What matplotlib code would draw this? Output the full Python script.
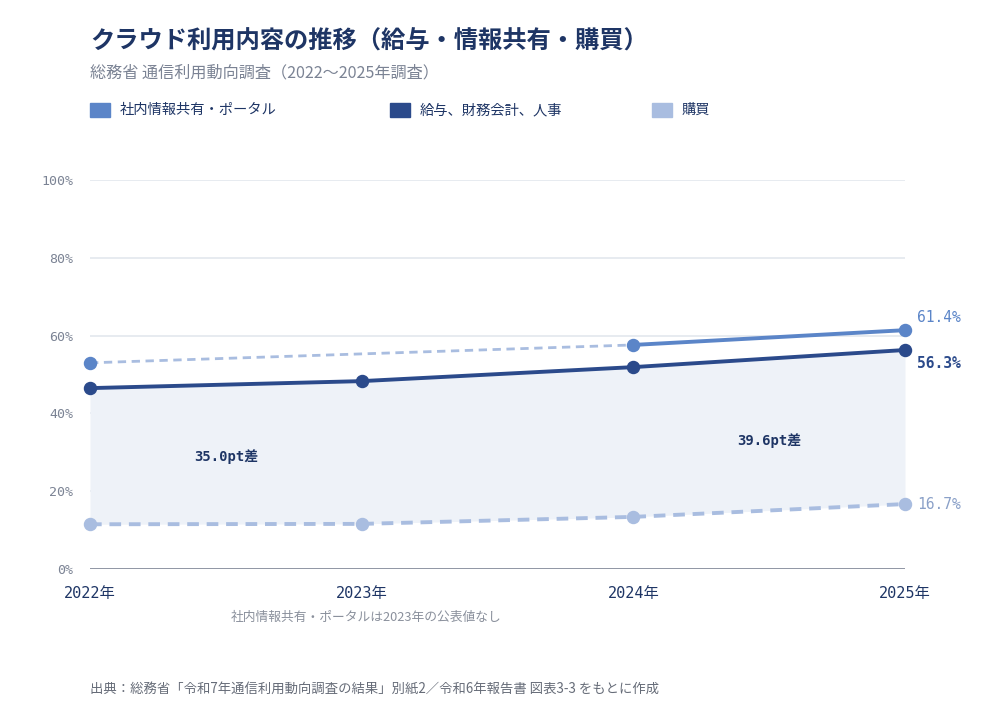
import matplotlib
matplotlib.use('Agg')
import matplotlib.pyplot as plt
import numpy as np

# 日本語フォント (数字は等幅、足りない文字は CJK へ)
plt.rcParams['font.family'] = ['DejaVu Sans Mono', 'Noto Sans CJK JP']
plt.rcParams['axes.unicode_minus'] = False

# データ
years = ['2022年', '2023年', '2024年', '2025年']
portal_x = [0, 2, 3]          # 2023年は公表値なし
portal = [53.0, 57.6, 61.4]
payroll = [46.5, 48.3, 51.9, 56.3]
purchase = [11.5, 11.6, 13.4, 16.7]
yticks = [0, 20, 40, 60, 80, 100]

c_portal = '#5b85c8'
c_payroll = '#2b4a8b'
c_purchase = '#a9bde0'
c_title = '#1e3565'
c_gray = '#7b8394'

cjk = ['Noto Sans CJK JP', 'DejaVu Sans']

fig = plt.figure(figsize=(10, 7.2), dpi=100)
ax = fig.add_axes([0.09, 0.2097, 0.815, 0.5403])
x = np.arange(len(years))

# 差分エリア
ax.fill_between(x, purchase, payroll, color='#eef2f8', zorder=1, linewidth=0)

# グリッド
for v in yticks[1:]:
    ax.axhline(v, color='#e3e7ee', lw=1.2, zorder=0.5)
ax.axhline(0, color='#6f7789', lw=1.8, zorder=2)

# 購買
ax.plot(x, purchase, color=c_purchase, lw=2.8, ls=(0, (3, 2)), zorder=3)
ax.scatter(x, purchase, s=75, color=c_purchase, zorder=4, clip_on=False)

# 給与・財務会計・人事
ax.plot(x, payroll, color=c_payroll, lw=2.8, zorder=3)
ax.scatter(x, payroll, s=75, color=c_payroll, zorder=4, clip_on=False)

# 社内情報共有・ポータル
ax.plot(portal_x[:2], portal[:2], color=c_purchase, lw=2, ls=(0, (3, 2)), zorder=3)
ax.plot(portal_x[1:], portal[1:], color=c_portal, lw=2.8, zorder=3)
ax.scatter(portal_x, portal, s=75, color=c_portal, zorder=4, clip_on=False)

ax.set_xlim(0, 3)
ax.set_ylim(0, 100)
for s in ax.spines.values():
    s.set_visible(False)
ax.set_yticks(yticks)
ax.set_yticklabels([f'{v}%' for v in yticks], color=c_gray, fontsize=9.5)
ax.set_xticks(x)
ax.set_xticklabels(years, color=c_title, fontsize=11)
ax.tick_params(axis='both', length=0)
ax.tick_params(axis='y', pad=12)
ax.tick_params(axis='x', pad=12)

# 右端ラベル
ax.annotate(f'{portal[-1]}%', (3, portal[-1]), xytext=(9, 4), textcoords='offset points',
            color=c_portal, fontsize=10.5, va='bottom', annotation_clip=False)
ax.annotate(f'{payroll[-1]}%', (3, payroll[-1]), xytext=(9, -4), textcoords='offset points',
            color=c_payroll, fontsize=10.5, fontweight='bold', va='top', annotation_clip=False)
ax.annotate(f'{purchase[-1]}%', (3, purchase[-1]), xytext=(9, 0), textcoords='offset points',
            color='#8aa0c8', fontsize=10.5, va='center', annotation_clip=False)

# 差ラベル
gap0 = payroll[0] - purchase[0]
gap3 = payroll[-1] - purchase[-1]
ax.text(0.5, 29, f'{gap0:.1f}pt差', color=c_title, fontsize=10, fontweight='bold',
        ha='center', va='center', zorder=5)
ax.text(2.5, 33, f'{gap3:.1f}pt差', color=c_title, fontsize=10, fontweight='bold',
        ha='center', va='center', zorder=5)

# タイトル
fig.text(0.09, 0.942, 'クラウド利用内容の推移（給与・情報共有・購買）', family=cjk,
         fontsize=17.5, fontweight='bold', color=c_title, va='center')
fig.text(0.09, 0.899, '総務省 通信利用動向調査（2022〜2025年調査）', family=cjk,
         fontsize=11.6, color=c_gray, va='center')

# 凡例
legend_items = [('社内情報共有・ポータル', c_portal, 0.09),
                ('給与、財務会計、人事', c_payroll, 0.39),
                ('購買', c_purchase, 0.652)]
for label, col, lx in legend_items:
    fig.patches.append(plt.Rectangle((lx, 0.838), 0.02, 0.0195, color=col,
                                     transform=fig.transFigure, figure=fig))
    fig.text(lx + 0.03, 0.847, label, family=cjk, fontsize=10.3, color=c_title, va='center')

# 注記・出典
fig.text(0.231, 0.143, '社内情報共有・ポータルは2023年の公表値なし', family=cjk,
         fontsize=9.2, color='#8a909c', va='center')
fig.text(0.09, 0.042, '出典：総務省「令和7年通信利用動向調査の結果」別紙2／令和6年報告書 図表3-3 をもとに作成',
         family=cjk, fontsize=9.6, color='#666c78', va='center')

fig.savefig('out.png', dpi=100, facecolor='white')
